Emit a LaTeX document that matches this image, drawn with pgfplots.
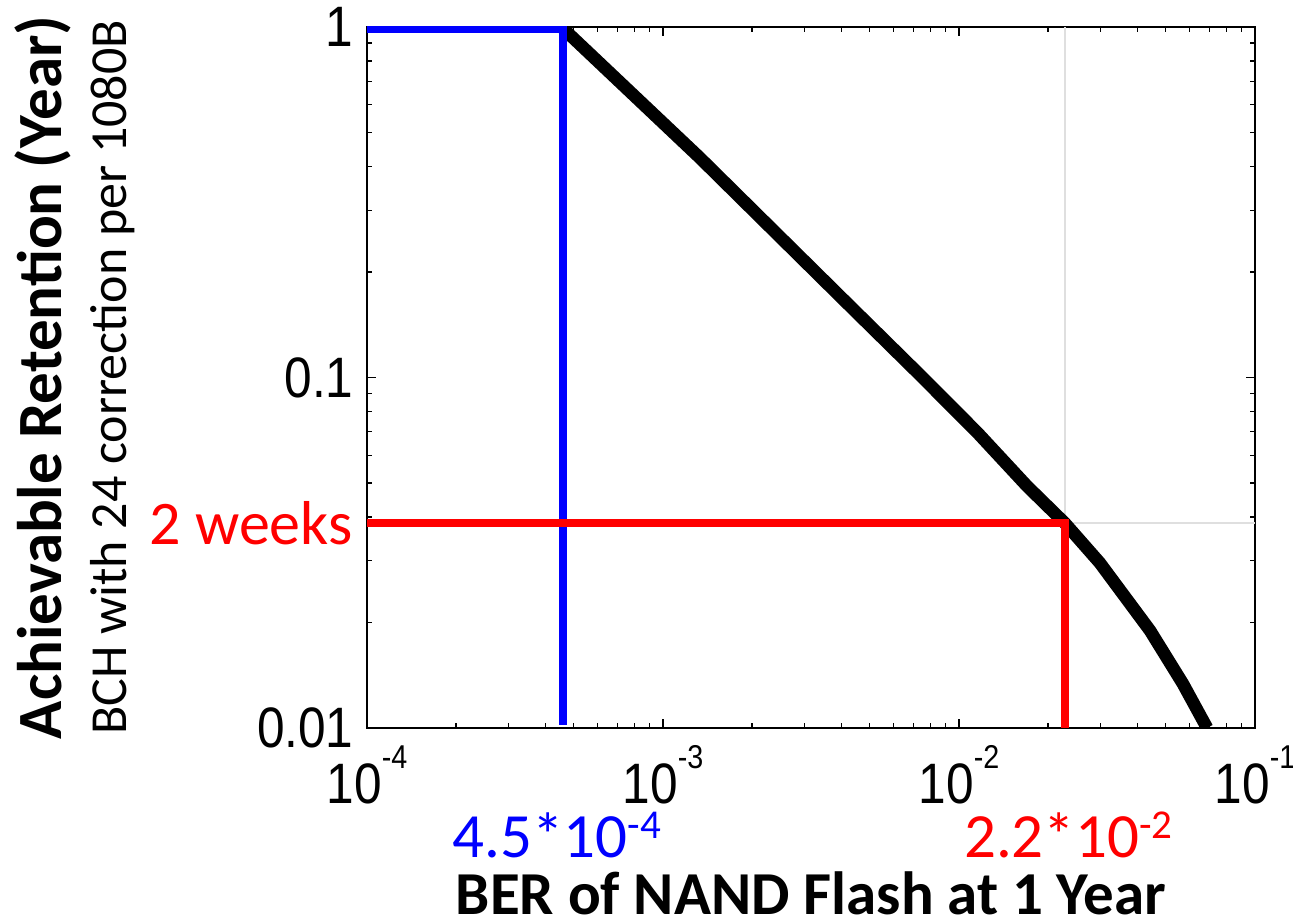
\documentclass[border=0pt]{standalone}
\usepackage{pgfplots}
\pgfplotsset{compat=1.18}
\usepackage{graphicx}
\usepackage{fontspec}
\setmainfont{Carlito}
\newfontfamily\arialf{Liberation Sans}
\definecolor{myblue}{RGB}{0,0,255}
\definecolor{myred}{RGB}{255,0,0}
\newcommand\ytl[1]{\scalebox{0.87}[1]{\arialf\fontsize{28.5}{28.5}\selectfont #1}}
\newcommand\xtl[1]{\scalebox{0.87}[1]{\arialf\fontsize{28.5}{28.5}\selectfont 10\raisebox{17.5pt}{\fontsize{16.5}{16.5}\selectfont #1}}}
\newcommand\mysup[1]{\raisebox{9.5pt}{\fontsize{20.5}{20.5}\selectfont #1}}
\begin{document}
\begin{tikzpicture}
\begin{axis}[
  xmode=log, ymode=log,
  xmin=1e-4, xmax=1e-1, ymin=0.01, ymax=1,
  scale only axis, width=444pt, height=350.5pt,
  clip mode=individual,
  axis line style={line width=1pt},
  tick align=inside, xtick pos=both, ytick pos=both,
  major tick length=4.5pt, minor tick length=2.5pt,
  tick style={line width=0.6pt, black},
  xtick={1e-4,1e-3,1e-2,1e-1},
  xticklabels={\xtl{-4},\xtl{-3},\xtl{-2},\xtl{-1}},
  ytick={0.01,0.1,1},
  yticklabels={\ytl{0.01},\ytl{0.1},\ytl{1}},
  xticklabel style={anchor=base, yshift=-37.5pt, inner sep=0pt},
  yticklabel style={anchor=east, xshift=-6.5pt, inner sep=0pt},
]
% gray crosshair
\addplot[gray!25, line width=0.8pt] coordinates {(0.0228,0.01) (0.0228,1)};
\addplot[gray!25, line width=0.8pt] coordinates {(1e-4,0.0384) (0.1,0.0384)};
% main curve
\addplot[black, line width=6.3pt, line join=round] coordinates {
(4.6e-4,0.99) (1.33e-3,0.424) (4.28e-3,0.160) (7.21e-3,0.1037) (0.01151,0.0698)
(0.01698,0.0490) (0.0228,0.0384) (0.0299,0.0296) (0.0442,0.01897) (0.0571,0.01337) (0.0689,0.0100)
};
% blue marker lines
\addplot[myblue, line width=4pt, line join=miter] coordinates {(1e-4,0.984) (4.6e-4,0.984) (4.6e-4,0.0102)};
% red marker lines
\addplot[myred, line width=4pt, line join=miter] coordinates {(1e-4,0.0384) (0.0228,0.0384) (0.0228,0.01)};
% annotations
\node[anchor=east, text=myred, font=\fontsize{31}{31}\selectfont, inner sep=0pt, xshift=-7pt] at (axis cs:1e-4,0.0384) {2 weeks};
\node[anchor=base, text=myblue, font=\fontsize{31.5}{31.5}\selectfont, inner sep=0pt, yshift=-64.5pt] at (axis cs:4.38e-4,0.01) {4.5*10\mysup{-4}};
\node[anchor=base, text=myred, font=\fontsize{31.5}{31.5}\selectfont, inner sep=0pt, yshift=-64.5pt] at (axis cs:0.0234,0.01) {2.2*10\mysup{-2}};
\node[anchor=base, font=\bfseries\fontsize{30.5}{30.5}\selectfont, inner sep=0pt, yshift=-93pt] at (rel axis cs:0.5,0) {BER of NAND Flash at 1 Year};
\node[anchor=base, rotate=90, font=\bfseries\fontsize{31.5}{31.5}\selectfont, inner sep=0pt] at ([xshift=-152.5pt]rel axis cs:0,0.5) {Achievable Retention (Year)};
\node[anchor=base, rotate=90, font=\fontsize{26}{26}\selectfont, inner sep=0pt] at ([xshift=-120pt]rel axis cs:0,0.5) {BCH with 24 correction per 1080B};
\coordinate (sw) at (rel axis cs:0,0);
\coordinate (ne) at (rel axis cs:1,1);
\end{axis}
\pgfresetboundingbox
\path[use as bounding box] ([xshift=-183.5pt,yshift=-96pt]sw) rectangle ([xshift=19pt,yshift=13.5pt]ne);
\end{tikzpicture}
\end{document}
